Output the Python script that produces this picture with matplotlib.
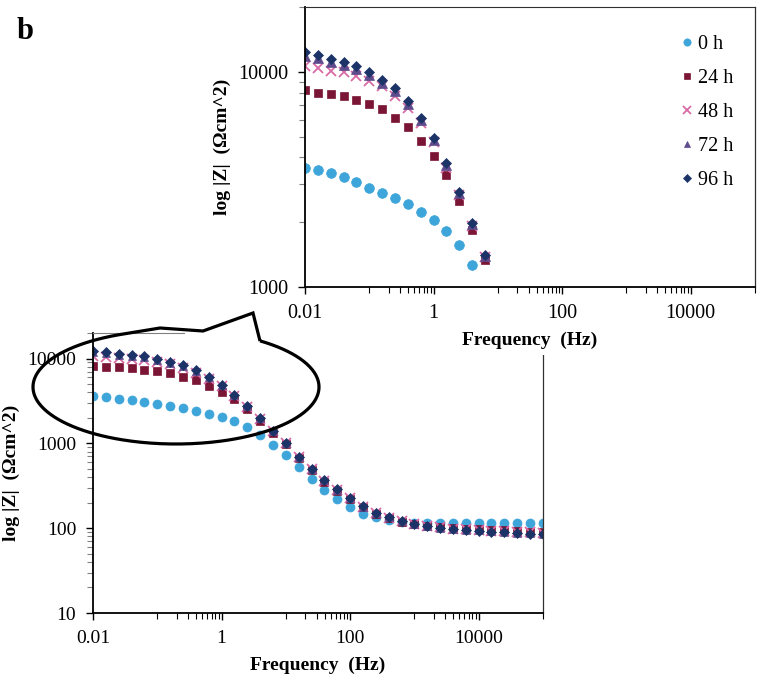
import numpy as np
import matplotlib
matplotlib.use('Agg')
import matplotlib.pyplot as plt
from matplotlib.ticker import FixedLocator, FuncFormatter, NullFormatter, LogLocator
from matplotlib.patches import Rectangle

plt.rcParams['font.family'] = ['Liberation Serif', 'DejaVu Serif']

# frequency sweep (Hz), 5 points per decade
freq = [0.01, 0.0158, 0.0251, 0.0398, 0.0631, 0.1, 0.158, 0.251, 0.398, 0.631,
        1, 1.58, 2.51, 3.98, 6.31, 10, 15.8, 25.1, 39.8, 63.1,
        100, 158, 251, 398, 631, 1000, 1580, 2510, 3980, 6310,
        10000, 15800, 25100, 39800, 63100, 100000]

# |Z| (ohm cm^2)
z_0h = [3590, 3490, 3370, 3240, 3070, 2890, 2740, 2600, 2420, 2240,
        2040, 1820, 1560, 1260, 960, 721, 530, 385, 280, 218,
        177, 148, 135, 125, 118, 115, 114, 114, 114, 114,
        115, 115, 114, 114, 116, 116]
z_24h = [8250, 7950, 7880, 7680, 7410, 7070, 6700, 6130, 5510, 4770,
         4060, 3300, 2520, 1850, 1340, 980, 670, 485, 355, 275,
         220, 176, 148, 131, 119, 112, 106, 103, 100, 98,
         97, 95, 94, 92, 91, 90]
z_48h = [10660, 10370, 10110, 10000, 9520, 9080, 8600, 7730, 6820, 5810,
         4720, 3590, 2690, 1930, 1380, 1000, 685, 495, 362, 280,
         224, 178, 150, 133, 120, 112, 106, 102, 99, 97,
         95, 93, 92, 90, 89, 88]
z_72h = [11900, 11600, 11100, 10700, 10300, 9700, 8900, 8150, 7100, 6000,
         4820, 3700, 2730, 1970, 1400, 1010, 690, 500, 365, 283,
         226, 180, 151, 134, 120, 112, 105, 101, 98, 96,
         94, 92, 90, 88, 87, 86]
z_96h = [12300, 11960, 11450, 11060, 10660, 10000, 9150, 8370, 7280, 6130,
         4900, 3760, 2760, 1990, 1410, 1020, 697, 503, 368, 286,
         228, 181, 152, 135, 121, 112, 105, 101, 97, 95,
         93, 91, 89, 87, 86, 85]

labels = ['0 h', '24 h', '48 h', '72 h', '96 h']
series = [z_0h, z_24h, z_48h, z_72h, z_96h]
markers = ['o', 's', 'x', '^', 'D']
colors = ['#3DA5D9', '#7B1535', '#D86AA5', '#5E4B8C', '#1B3366']
sizes = [6.5, 5.5, 7, 6, 5]

n_inset = 15  # the zoomed chart only shows the low-frequency part

x_major = [0.01, 1, 100, 10000]
x_minor = [m * 10 * k for m in x_major for k in range(1, 10) if m * 10 * k <= 100000]


def style_axes(ax, ymin, ymax, fs, top_color):
    ax.set_xscale('log')
    ax.set_yscale('log')
    ax.set_xlim(0.01, 100000)
    ax.set_ylim(ymin, ymax)
    ax.xaxis.set_major_locator(FixedLocator(x_major))
    ax.xaxis.set_minor_locator(FixedLocator(x_minor))
    ax.xaxis.set_minor_formatter(NullFormatter())
    ax.yaxis.set_major_locator(LogLocator(base=10, numticks=10))
    ax.yaxis.set_minor_locator(LogLocator(base=10, subs=range(2, 10), numticks=20))
    ax.yaxis.set_minor_formatter(NullFormatter())
    fmt = FuncFormatter(lambda v, p: f'{v:g}')
    ax.xaxis.set_major_formatter(fmt)
    ax.yaxis.set_major_formatter(fmt)
    ax.tick_params(which='major', direction='out', length=5, width=1, labelsize=fs, pad=7)
    ax.tick_params(which='minor', direction='out', length=4, width=0.8)
    ax.tick_params(axis='y', which='minor', colors='#808080')
    for s in ['left', 'bottom']:
        ax.spines[s].set_linewidth(1.3)
        ax.spines[s].set_color('black')
    ax.spines['top'].set_linewidth(0.8)
    ax.spines['top'].set_color(top_color)
    ax.spines['right'].set_linewidth(0.9)
    ax.spines['right'].set_color('#303030')


fig = plt.figure(figsize=(7.6, 6.87), dpi=100)

# main chart (full frequency range)
ax_main = fig.add_axes([93 / 760, 1 - 613 / 687, 450 / 760, 280 / 687], zorder=0)
for z, lab, m, c, s in zip(series, labels, markers, colors, sizes):
    ax_main.plot(freq, z, linestyle='none', marker=m, ms=s, color=c,
                 mec=c, mew=1.3 if m == 'x' else 0.5, label=lab)
style_axes(ax_main, 10, 20000, 14, '#808080')
ax_main.set_xlabel('Frequency  (Hz)', fontsize=14, fontweight='bold', va='center')
ax_main.xaxis.set_label_coords(0.5, -0.186)
ax_main.set_ylabel('log |Z|  (\u03a9cm^2)', fontsize=14, fontweight='bold', va='center')
ax_main.yaxis.set_label_coords(-0.182, 0.5)

# white area where the zoomed chart sits over the main one
fig.add_artist(Rectangle((185 / 760, 1 - 355 / 687), 575 / 760, 355 / 687,
                         transform=fig.transFigure, facecolor='white',
                         edgecolor='none', zorder=1))

# zoomed chart (low-frequency region)
ax_top = fig.add_axes([305 / 760, 1 - 287 / 687, 450 / 760, 280 / 687], zorder=2)
for z, lab, m, c, s in zip(series, labels, markers, colors, sizes):
    fz = np.array(freq[:n_inset])
    zz = np.array(z[:n_inset])
    keep = zz >= 1000
    ax_top.plot(fz[keep], zz[keep], linestyle='none', marker=m, ms=s + 0.5, color=c,
                mec=c, mew=1.3 if m == 'x' else 0.5, label=lab)
style_axes(ax_top, 1000, 20000, 14.5, '#303030')
ax_top.set_xlabel('Frequency  (Hz)', fontsize=14, fontweight='bold', va='center')
ax_top.xaxis.set_label_coords(0.5, -0.19)
ax_top.set_ylabel('log |Z|  (\u03a9cm^2)', fontsize=14, fontweight='bold', va='center')
ax_top.yaxis.set_label_coords(-0.184, 0.5)
ax_top.legend(loc='upper left', bbox_to_anchor=(0.815, 0.93), frameon=False,
              fontsize=14.5, handlelength=0.7, handletextpad=0.2,
              labelspacing=0.74, markerscale=0.75, borderaxespad=0)

# callout ellipse linking the two charts (drawn in pixel coordinates)
ov = fig.add_axes([0, 0, 1, 1], zorder=3)
ov.set_xlim(0, 760)
ov.set_ylim(687, 0)
ov.axis('off')
ov.patch.set_alpha(0)
cx, cy, a, b = 176, 387, 143, 57
th = np.radians(np.linspace(306, 607, 300))
ex = cx + a * np.cos(th)
ey = cy + b * np.sin(th)
px = np.concatenate([ex, [160, 203, 253, 260]])
py = np.concatenate([ey, [328, 331, 313, 341]])
ov.plot(px, py, color='black', lw=2.3, solid_joinstyle='miter', solid_capstyle='butt')

fig.text(17 / 760, 1 - 39 / 687, 'b', fontsize=22, fontweight='bold', ha='left', va='baseline')

fig.savefig('out.png', dpi=100)
